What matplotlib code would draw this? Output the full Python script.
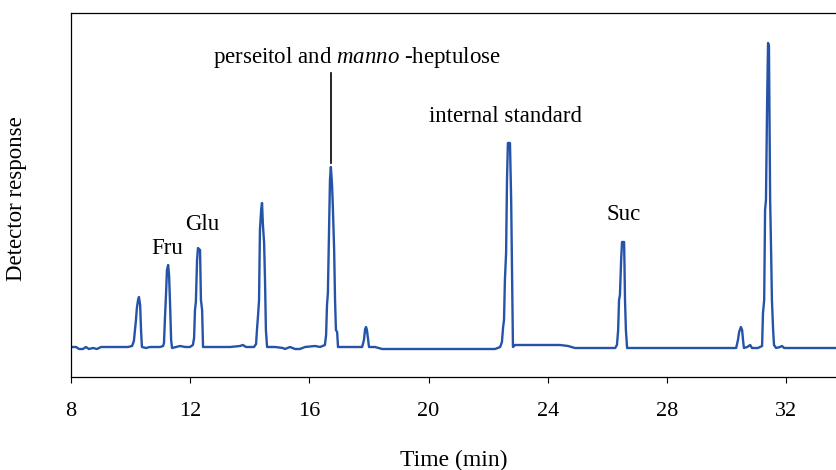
import matplotlib
matplotlib.use("Agg")
import matplotlib.pyplot as plt

plt.rcParams['font.family'] = ['Liberation Serif', 'DejaVu Serif']
plt.rcParams['mathtext.fontset'] = 'custom'
plt.rcParams['mathtext.it'] = 'Liberation Serif:italic'
plt.rcParams['mathtext.rm'] = 'Liberation Serif'

# Chromatogram trace: retention time (min) and detector response (a.u.)
time_min = [
    8.00, 8.17, 8.27, 8.40, 8.50, 8.60, 8.74, 8.87, 9.01, 9.31, 9.64, 9.91,
    10.05, 10.11, 10.18, 10.21, 10.25, 10.28, 10.32, 10.35, 10.38, 10.52, 10.65, 10.82, 10.99, 11.09,
    11.12, 11.15, 11.19, 11.22, 11.26, 11.29, 11.32, 11.36, 11.39, 11.52, 11.66, 11.83, 11.99, 12.09,
    12.13, 12.16, 12.19, 12.23, 12.26, 12.33, 12.36, 12.40, 12.43, 12.66, 13.00, 13.34, 13.67, 13.77, 13.87, 14.14, 14.21,
    14.24, 14.28, 14.31, 14.34, 14.38, 14.41, 14.44, 14.48, 14.51, 14.54, 14.58, 14.85, 15.11, 15.18, 15.35, 15.52, 15.68, 15.85, 16.19, 16.36, 16.52,
    16.56, 16.59, 16.62, 16.66, 16.69, 16.72, 16.76, 16.79, 16.83, 16.86, 16.89, 16.93, 16.96, 17.36, 17.77,
    17.83, 17.87, 17.90, 17.93, 17.97, 18.00, 18.20, 18.44, 19.04, 19.71, 20.38, 21.05, 21.72, 22.23, 22.40,
    22.46, 22.50, 22.53, 22.56, 22.60, 22.63, 22.66, 22.73, 22.77, 22.80, 22.83, 22.90, 23.40, 24.07, 24.41, 24.68, 24.91, 25.75, 26.26, 26.32,
    26.36, 26.39, 26.42, 26.46, 26.49, 26.56, 26.59, 26.62, 26.66, 27.43, 28.44, 29.11, 29.78, 30.32,
    30.38, 30.42, 30.48, 30.52, 30.55, 30.58, 30.69, 30.79, 30.85, 31.05, 31.19,
    31.22, 31.26, 31.29, 31.32, 31.36, 31.39, 31.42, 31.46, 31.49, 31.52, 31.56, 31.59, 31.66, 31.79, 31.86, 31.93, 32.46, 33.67,
]
response = [
    0, 0, -2, -2, 0, -2, -1, -2, 0, 0, 0, 0,
    1, 6, 27, 39, 47, 50, 42, 17, 0, -1, 0, 0, 0, 1,
    4, 27, 54, 77, 82, 72, 47, 7, -1, 0, 1, 0, 0, 2,
    9, 37, 45, 87, 99, 97, 47, 37, 0, 0, 0, 0, 1, 2, 0, 0, 3,
    17, 33, 47, 117, 137, 144, 122, 104, 67, 17, 0, 0, -1, -2, 0, -2, -2, 0, 1, 0, 2,
    12, 42, 54, 117, 167, 180, 162, 137, 97, 47, 17, 15, 0, 0, 0,
    7, 18, 20, 17, 7, 0, 0, -2, -2, -2, -2, -2, -2, -2, 0,
    5, 20, 27, 67, 94, 167, 204, 204, 147, 77, 0, 2, 2, 2, 2, 1, -1, -1, -1, 2,
    17, 47, 52, 87, 105, 105, 47, 17, -1, -1, -1, -1, -1, -1,
    7, 15, 20, 17, 7, -1, 0, 2, -1, -1, 1,
    34, 47, 137, 147, 247, 304, 301, 147, 100, 47, 17, 2, -1, 0, 1, -1, -1, -1,
]

x_ticks = [8, 12, 16, 20, 24, 28, 32]
peak_labels = ["Fru", "Glu", "internal standard", "Suc"]
peak_label_pos = [(11.22, 99), (12.40, 122), (22.58, 231), (26.56, 132)]
main_label = r"perseitol and $\mathit{manno}$ -heptulose"
main_label_pos = (17.6, 290)
main_line = (16.72, 274, 184)

fig = plt.figure(figsize=(8.36, 4.70), dpi=100)
ax = fig.add_axes([71/836, 1 - 377/470, 1 - 71/836, (377 - 13)/470])

ax.plot(time_min, response, color='#2453a8', lw=1.7, solid_joinstyle='round')

ax.set_xlim(8, 33.67)
ax.set_ylim(-30, 334)
ax.set_xticks(x_ticks)
ax.set_xticklabels([str(t) for t in x_ticks])
ax.set_yticks([])
ax.tick_params(axis='x', direction='out', length=4, width=0.8, pad=14, labelsize=16)
ax.spines['right'].set_visible(False)
for s in ['left', 'top', 'bottom']:
    ax.spines[s].set_linewidth(0.9)

ax.set_xlabel("Time (min)", fontsize=17, labelpad=21)
ax.set_ylabel("Detector response", fontsize=16.5)
ax.yaxis.set_label_coords(-0.057, 0.49)

for lab, (x, y) in zip(peak_labels, peak_label_pos):
    ax.text(x, y, lab, ha='center', va='center', fontsize=16.5)

ax.text(main_label_pos[0], main_label_pos[1], main_label, ha='center', va='center', fontsize=16.5)
ax.plot([main_line[0], main_line[0]], [main_line[2], main_line[1]], color='black', lw=1.2)

fig.savefig("out.png", dpi=100)
